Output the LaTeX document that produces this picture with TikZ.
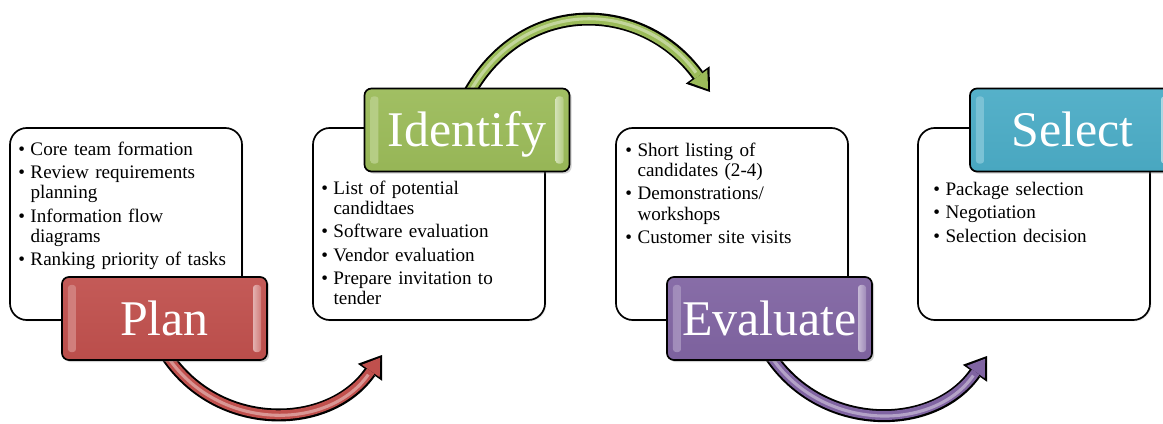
\documentclass[tikz,border=0pt]{standalone}
\usepackage{fontspec}
\setmainfont{Liberation Serif}
\usetikzlibrary{positioning,calc,arrows.meta,shadows,backgrounds}
\definecolor{planred}{RGB}{192,80,77}
\definecolor{idgreen}{RGB}{155,187,89}
\definecolor{evalviolet}{RGB}{128,100,162}
\definecolor{selblue}{RGB}{75,172,198}
\newcommand{\itm}{\par\hangindent=8.6pt\hangafter=1\noindent\makebox[8.6pt][l]{\textbullet}}
\tikzset{
  infobox/.style={draw=black,line width=1.2pt,rounded corners=12pt,fill=white,minimum width=5.8cm,minimum height=4.8cm,drop shadow={opacity=.15,shadow xshift=1pt,shadow yshift=-1pt}},
  infotext/.style={anchor=north west,inner sep=0pt,text width=5.4cm,align=left,font=\fontsize{13.6}{14.3}\selectfont\setlength{\parskip}{2.2pt}},
  stage/.style={draw=black,line width=1.2pt,rounded corners=5pt,minimum width=5.125cm,minimum height=2.075cm,inner sep=2pt,text height=24pt,text depth=0pt,text=white,font=\fontsize{35.5}{40}\selectfont,top color=#1!94!white,bottom color=#1!97!black,drop shadow={opacity=.35,shadow xshift=1.5pt,shadow yshift=-1.5pt},
    path picture={
      \shade[left color=#1!75!white,right color=#1!45!white,rounded corners=2pt] ($(path picture bounding box.north west)+(6,-8)$) rectangle ($(path picture bounding box.south west)+(14,8)$);
      \shade[left color=#1!45!white,right color=#1!75!white,rounded corners=2pt] ($(path picture bounding box.north east)+(-14,-8)$) rectangle ($(path picture bounding box.south east)+(-6,8)$);
    }},
  rim/.style={black,line width=9.2pt,-{Triangle[length=15pt,width=21pt,line width=0pt]}},
  body/.style={#1,line width=6.4pt,shorten >=2.4pt,-{Triangle[length=11.5pt,width=15.5pt,line width=0pt]}},
  gloss/.style={#1!60!white,line width=2.2pt,shorten >=17pt}
}
\begin{document}
\begin{tikzpicture}[x=0.025cm,y=0.025cm]
  \path[use as bounding box] (0,0) rectangle (1163,423);
  \node[infobox] (box1) at (126,199) {};
  \node[infobox] (box2) at (429,199) {};
  \node[infobox] (box3) at (732,199) {};
  \node[infobox] (box4) at (1034,199) {};
  \node[infotext] (txt1) at ($(box1.north west)+(9,-5)$) {\itm Core team formation \itm Review requirements\newline planning \itm Information flow\newline diagrams \itm Ranking priority of tasks\par};
  \node[infotext] (txt2) at ($(box2.north west)+(9,-44)$) {\itm List of potential\newline candidtaes \itm Software evaluation \itm Vendor evaluation \itm Prepare invitation to\newline tender\par};
  \node[infotext] (txt3) at ($(box3.north west)+(10,-6)$) {\itm Short listing of\newline candidates (2-4) \itm Demonstrations/\newline workshops \itm Customer site visits\par};
  \node[infotext] (txt4) at ($(box4.north west)+(16,-45)$) {\itm Package selection \itm Negotiation \itm Selection decision\par};
  \node[stage=planred] (plan) at (164.5,104.5) {Plan};
  \node[stage=idgreen] (identify) at (467,293) {Identify};
  \node[stage=evalviolet] (evaluate) at (769.5,104.5) {Evaluate};
  \node[stage=selblue] (select) at (1072.5,293) {Select};
  \begin{pgfonlayer}{background}
    \fill[white] (0,0) rectangle (1163,423);
    \coordinate (redfoot) at ($(plan.south)+(2.5,5)$);
    \coordinate (redtip) at (382,68);
    \coordinate (greenfoot) at ($(identify.north)+(3,-4)$);
    \coordinate (greentip) at (710,331);
    \coordinate (violetfoot) at ($(evaluate.south)+(1,5)$);
    \coordinate (violettip) at (987,67);
    \foreach \src/\dst/\aout/\ain/\loose/\col in {redfoot/redtip/-56/235/1.1/planred,greenfoot/greentip/60/126/1.2/idgreen,violetfoot/violettip/-56/235/1.1/evalviolet}{
      \draw[rim] (\src) to[out=\aout,in=\ain,looseness=\loose] (\dst);
      \draw[body=\col] (\src) to[out=\aout,in=\ain,looseness=\loose] (\dst);
      \draw[gloss=\col] (\src) to[out=\aout,in=\ain,looseness=\loose] (\dst);
    }
  \end{pgfonlayer}
\end{tikzpicture}
\end{document}
